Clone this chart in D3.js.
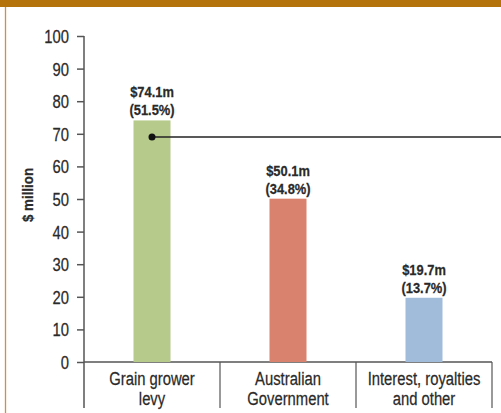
<!DOCTYPE html>
<html><head><meta charset="utf-8">
<script src="https://cdn.jsdelivr.net/npm/d3@7"></script>
<style>
html,body{margin:0;padding:0;background:#fff;}
svg{display:block;}
</style></head>
<body>
<svg id="c" width="501" height="413"></svg>
<script>
const categories = [["Grain grower","levy"],["Australian","Government"],["Interest, royalties","and other"]];
const values = [74.1, 50.1, 19.7];
const shares = ["51.5%", "34.8%", "13.7%"];
const colors = ["#b6ca8b", "#d9826d", "#a1bcda"];
const yTicks = [0,10,20,30,40,50,60,70,80,90,100];
const calloutValue = 69;

const svg = d3.select("#c");
const W = 501, H = 413;
const font = "'Liberation Sans',Arial,sans-serif";
const m = {left:84, right:9, top:36, bottom:51};
const x = d3.scaleBand().domain(d3.range(categories.length)).range([m.left, W - m.right]).paddingInner(0).paddingOuter(0);
const y = d3.scaleLinear().domain([0,100]).range([H - m.bottom, m.top]);
const bw = 37;
const axisColor = "#555";
const textColor = "#2a2a2a";

// condensed text helper
function ctext(px, py, str, size, sx, bold, anchor, rot) {
  return svg.append("text")
    .attr("transform", `translate(${px},${py})` + (rot ? ` rotate(${rot})` : "") + ` scale(${sx},1)`)
    .attr("text-anchor", anchor || "middle")
    .attr("fill", textColor)
    .attr("stroke", textColor)
    .attr("stroke-width", 0.25)
    .style("font-family", font)
    .style("font-size", size + "px")
    .style("font-weight", bold ? "bold" : "normal")
    .text(str);
}

// frame
svg.append("rect").attr("x",0).attr("y",0).attr("width",W).attr("height",7).attr("fill","#b5730b");
svg.append("line").attr("x1",5.5).attr("x2",5.5).attr("y1",7).attr("y2",H).attr("stroke","#d09040").attr("stroke-width",1.3);

// y axis
const yAxis = d3.axisLeft(y).tickValues(yTicks).tickSize(7).tickFormat("");
const gy = svg.append("g").attr("transform",`translate(${m.left},0)`).call(yAxis);
gy.select(".domain").remove();
gy.selectAll(".tick line").attr("stroke",axisColor).attr("stroke-width",1.5);
yTicks.forEach(t => ctext(69, y(t) + 7, String(t), 19, 0.78, false, "end"));
svg.append("line").attr("x1",m.left).attr("x2",m.left).attr("y1",y(100)).attr("y2",408).attr("stroke",axisColor).attr("stroke-width",1.5);

// x axis line and separators
svg.append("line").attr("x1",m.left).attr("x2",W - m.right).attr("y1",y(0)).attr("y2",y(0)).attr("stroke",axisColor).attr("stroke-width",1.5);
categories.forEach((c,i)=>{
  const xr = x(i) + x.bandwidth();
  svg.append("line").attr("x1",xr).attr("x2",xr).attr("y1",y(0)).attr("y2",408).attr("stroke",axisColor).attr("stroke-width",1.2);
});

// bars
svg.selectAll("rect.bar").data(values).enter().append("rect").attr("class","bar")
  .attr("x",(d,i)=>x(i)+x.bandwidth()/2-bw/2).attr("width",bw)
  .attr("y",d=>y(d)).attr("height",d=>y(0)-y(d))
  .attr("fill",(d,i)=>colors[i]);

// value labels
values.forEach((v,i)=>{
  const cx = x(i)+x.bandwidth()/2;
  ctext(cx, y(v) - 23, `$${v.toFixed(1)}m`, 15, 0.86, true);
  ctext(cx, y(v) - 5, `(${shares[i]})`, 15, 0.86, true);
});

// category labels
categories.forEach((c,i)=>{
  const cx = x(i)+x.bandwidth()/2;
  c.forEach((line,j)=> ctext(cx, 385 + j*20, line, 19, 0.78, false));
});

// y label
ctext(33, 195, "$ million", 15, 0.89, true, "middle", -90);

// callout
const cx0 = x(0)+x.bandwidth()/2;
svg.append("line").attr("x1",cx0).attr("x2",W).attr("y1",y(calloutValue)).attr("y2",y(calloutValue)).attr("stroke","#222").attr("stroke-width",1.5);
svg.append("circle").attr("cx",cx0).attr("cy",y(calloutValue)).attr("r",3.5).attr("fill","#111");
</script>
</body></html>
